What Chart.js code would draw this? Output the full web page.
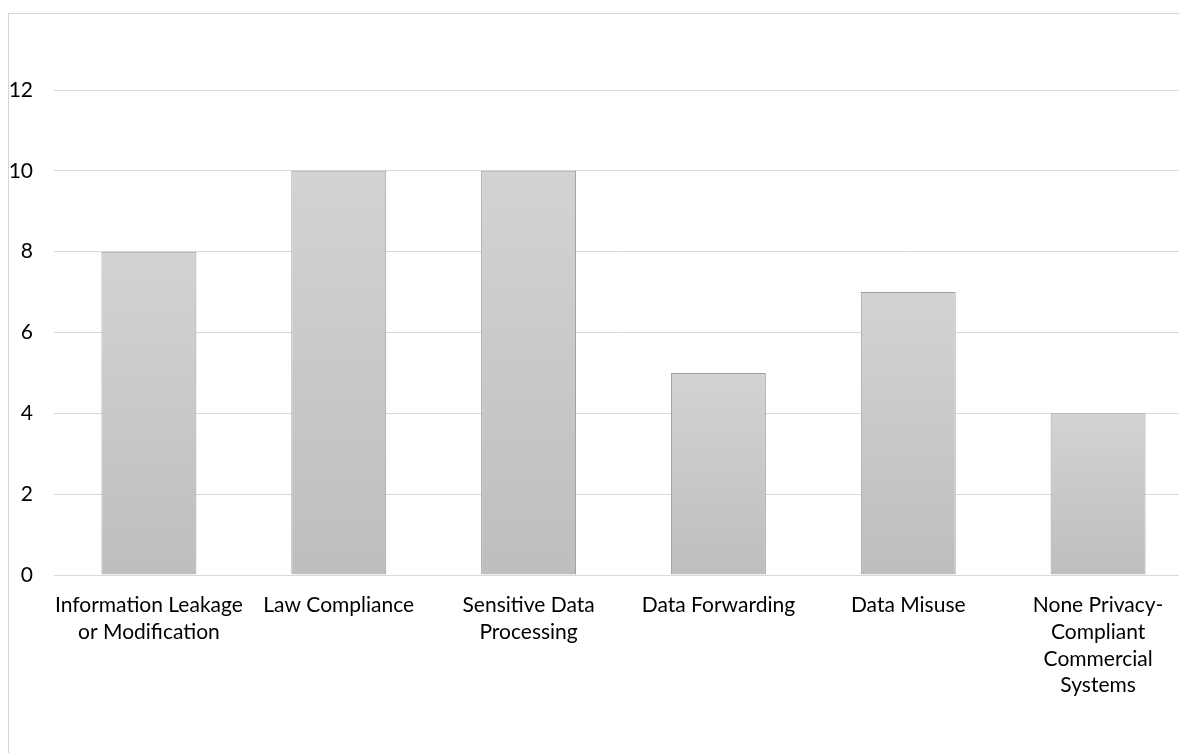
<!DOCTYPE html>
<html>
<head>
<meta charset="utf-8">
<script src="https://cdn.jsdelivr.net/npm/chart.js@4/dist/chart.umd.min.js"></script>
<style>
  html, body { margin: 0; padding: 0; background: #ffffff; overflow: hidden; width: 1179px; height: 753px; }
  #frame { position: absolute; left: 8px; top: 13px; width: 1300px; height: 900px;
           border-top: 1px solid #d4d4d4; border-left: 1px solid #d4d4d4; }
  #chart { position: absolute; left: 0; top: 0; }
</style>
</head>
<body>
<div id="frame"></div>
<canvas id="chart" width="1193" height="753"></canvas>
<script>
// Issue categories (multi-line labels as shown under each bar)
const categories = [
  ["Information Leakage", "or Modification"],
  "Law Compliance",
  ["Sensitive Data", "Processing"],
  "Data Forwarding",
  "Data Misuse",
  ["None Privacy-", "Compliant", "Commercial", "Systems"]
];
// Number of occurrences per category
const counts = [8, 10, 10, 5, 7, 4];
// Y axis range and step
const yMin = 0;
const yMax = 12;
const yStep = 2;

const FONT = "Lato, 'Open Sans', sans-serif";

// Vertical gray gradient for each bar, from its top down to the baseline
function barFill(ctx) {
  const chart = ctx.chart;
  const ys = chart.scales.y;
  if (!ys || ctx.raw === undefined) return '#c8c8c8';
  const top = ys.getPixelForValue(ctx.raw);
  const base = ys.getPixelForValue(0);
  if (!isFinite(top) || !isFinite(base) || top === base) return '#c8c8c8';
  const g = chart.ctx.createLinearGradient(0, top, 0, base);
  g.addColorStop(0, '#d3d3d3');
  g.addColorStop(1, '#bebebe');
  return g;
}

new Chart(document.getElementById('chart'), {
  type: 'bar',
  data: {
    labels: categories,
    datasets: [{
      data: counts,
      backgroundColor: barFill,
      borderColor: '#9e9e9e',
      borderWidth: 1,
      categoryPercentage: 1,
      barPercentage: 0.5
    }]
  },
  options: {
    responsive: false,
    animation: false,
    layout: { padding: { top: 90, left: 0, right: 0, bottom: 0 } },
    plugins: { legend: { display: false }, tooltip: { enabled: false } },
    scales: {
      x: {
        grid: { display: false, drawTicks: false },
        border: { display: true, color: '#d9d9d9', width: 1 },
        ticks: {
          color: '#000000',
          font: { family: FONT, size: 21, lineHeight: '26.7px' },
          padding: 17,
          maxRotation: 0,
          autoSkip: false
        },
        afterFit(scale) { scale.height = 753 - 575; }
      },
      y: {
        min: yMin,
        max: yMax,
        grid: { color: '#d9d9d9', lineWidth: 1, drawTicks: false },
        border: { display: false },
        ticks: {
          stepSize: yStep,
          color: '#000000',
          font: { family: FONT, size: 21 },
          padding: 21
        },
        afterFit(scale) { scale.width = 54; }
      }
    }
  }
});
</script>
</body>
</html>
